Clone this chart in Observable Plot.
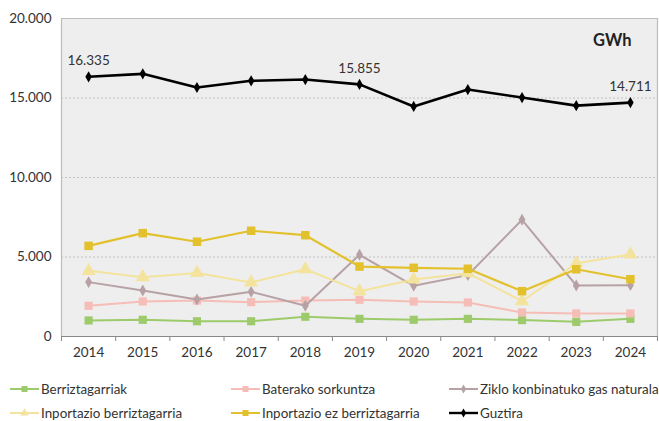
<!DOCTYPE html>
<html><head><meta charset="utf-8">
<script src="https://cdn.jsdelivr.net/npm/d3@7"></script>
<script src="https://cdn.jsdelivr.net/npm/@observablehq/plot@0.6"></script>
<style>
body{margin:0;background:#fff;font-family:Lato,"Open Sans",sans-serif;}
#chart{position:relative;width:659px;height:421px;overflow:hidden;}
#legend{position:absolute;left:0;top:377px;width:659px;font-size:13.4px;line-height:18px;color:#333;}
.li{position:absolute;display:flex;align-items:center;white-space:nowrap;}
.li svg{margin-right:2px;}
</style></head><body>
<div id="chart"><div id="plot"></div><div id="legend"></div></div>
<script>
const years = [2014,2015,2016,2017,2018,2019,2020,2021,2022,2023,2024];
const seriesNames = ["Berriztagarriak","Baterako sorkuntza","Ziklo konbinatuko gas naturala","Inportazio berriztagarria","Inportazio ez berriztagarria","Guztira"];
const berriztagarriak = [1010,1050,960,960,1240,1110,1050,1110,1030,920,1110];
const baterako = [1930,2200,2260,2160,2260,2310,2200,2140,1510,1450,1450];
const ziklo = [3420,2890,2330,2810,1930,5140,3190,3860,7340,3210,3230];
const inportBerr = [4130,3730,4000,3400,4230,2850,3580,3980,2220,4610,5160];
const inportEz = [5700,6500,5960,6650,6370,4400,4320,4260,2850,4230,3600];
const guztira = [16335,16520,15660,16080,16160,15855,14470,15530,15030,14520,14711];
const labelYears = [2014,2019,2024];
const yTicks = [0,5000,10000,15000,20000];
const unitLabel = "GWh";

const colors = ["#9dcb6b","#f6bdb7","#b7a1a5","#f3e39c","#e2c12d","#000000"];
const symbols = ["square","square","diamond","triangle","square","diamond"];
const radii = [4.6,4.6,3.6,5.2,4.8,3.4];
const widths = [2,2,2,2,2.2,2.6];
const allVals = [berriztagarriak,baterako,ziklo,inportBerr,inportEz,guztira];

const loc = d3.formatLocale({decimal:",",thousands:".",grouping:[3],currency:["",""]});
const fmt = loc.format(",d");

const rows = [];
allVals.forEach((arr,si)=>arr.forEach((v,i)=>rows.push({series:seriesNames[si],si,year:years[i],value:v})));
const bounds = years.map(y=>y-0.5).concat([years[years.length-1]+0.5]);
const labels = rows.filter(d=>d.si===5 && labelYears.includes(d.year));

const marks = [
  Plot.frame({fill:"#eeeeee",stroke:"none"}),
  Plot.ruleY(yTicks.filter(t=>t>0 && t<20000),{stroke:"#b5b5b5",strokeWidth:0.8,strokeDasharray:"2,2"}),
  Plot.ruleY([20000],{stroke:"#bdbdbd",strokeWidth:1.2}),
  Plot.ruleX([bounds[0]],{stroke:"#bdbdbd",strokeWidth:1.2}),
  Plot.ruleX([bounds[bounds.length-1]],{stroke:"#bdbdbd",strokeWidth:1.2}),
  Plot.axisY({ticks:yTicks,tickFormat:fmt,tickSize:0,tickPadding:10,fontSize:13.5,color:"#333",label:null}),
  Plot.axisX({ticks:bounds,tickFormat:()=>"",tickSize:5,stroke:"#888",label:null}),
  Plot.axisX({ticks:years,tickFormat:d=>String(d),tickSize:0,tickPadding:11,fontSize:13.5,color:"#333",label:null}),
  Plot.ruleY([0],{stroke:"#888",strokeWidth:1.2}),
];
for (let si=0; si<6; si++){
  const data = rows.filter(d=>d.si===si);
  marks.push(Plot.line(data,{x:"year",y:"value",stroke:colors[si],strokeWidth:widths[si]}));
  marks.push(Plot.dot(data,{x:"year",y:"value",fill:colors[si],stroke:"none",symbol:symbols[si],r:radii[si]}));
}
marks.push(Plot.text(labels,{x:"year",y:"value",text:d=>fmt(d.value),dy:-16,fontSize:13.5,fill:"#333"}));
marks.push(Plot.text([unitLabel],{frameAnchor:"top-right",dx:-26,dy:16,text:d=>d,fontSize:16.5,fontWeight:"bold",fill:"#222"}));

const chart = Plot.plot({
  width:659, height:366,
  marginLeft:61, marginRight:2, marginTop:18, marginBottom:30,
  style:{fontFamily:"Lato, sans-serif",background:"transparent"},
  x:{type:"linear",domain:[bounds[0],bounds[bounds.length-1]],axis:null},
  y:{domain:[0,20000],axis:null},
  marks
});
document.getElementById("plot").appendChild(chart);

const pos = [[10,12],[231,12],[449,12],[10,36],[231,36],[449,36]];
const lg = document.getElementById("legend");
seriesNames.forEach((n,si)=>{
  const d = document.createElement("div");
  d.className="li";
  d.style.left=pos[si][0]+"px"; d.style.top=(pos[si][1]-9)+"px";
  const sym = d3.symbol(si===3?d3.symbolTriangle:(symbols[si]==="diamond"?d3.symbolDiamond:d3.symbolSquare), si===3?30:(symbols[si]==="diamond"?24:36))();
  d.innerHTML = `<svg width="29" height="18"><line x1="0" x2="29" y1="9" y2="9" stroke="${colors[si]}" stroke-width="${si===5?2.4:2}"/><path d="${sym}" transform="translate(14.5,9)" fill="${colors[si]}"/></svg><span>${n}</span>`;
  lg.appendChild(d);
});
</script>
</body></html>
